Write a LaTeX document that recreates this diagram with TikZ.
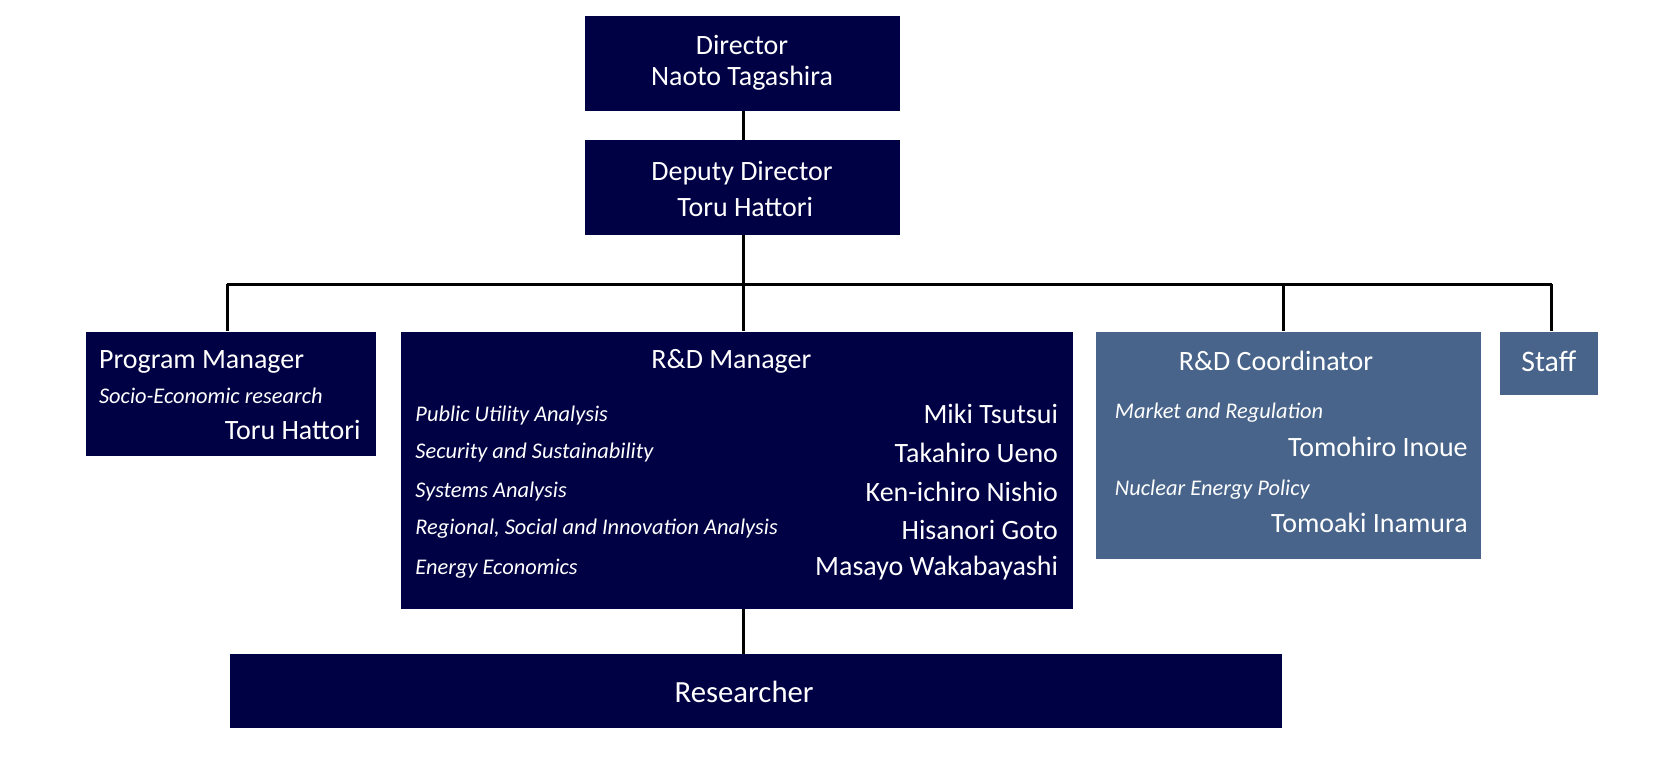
\documentclass[tikz,border=0pt]{standalone}
\usepackage{fontspec}
\setmainfont{Carlito}
\usetikzlibrary{positioning}
\definecolor{navy}{HTML}{000045}
\definecolor{steel}{HTML}{48648A}
\tikzset{
  box/.style = {draw = none, inner sep = 0pt, anchor = north west},
  big/.style = {text = white, font = \fontsize{15}{18}\selectfont, inner sep = 0pt},
  small/.style = {text = white, font = \fontsize{12}{14}\selectfont\itshape, inner sep = 0pt},
  link/.style = {line width = 1.6pt, black}
}
\begin{document}
\begin{tikzpicture}[x = 0.02cm, y = -0.02cm]
  \useasboundingbox (0, 0) rectangle (1560, 716);
  % boxes
  \node[box, fill = navy, minimum width = 296*0.02cm, minimum height = 89*0.02cm] at (551, 15) (dir) {};
  \node[box, fill = navy, minimum width = 296*0.02cm, minimum height = 89*0.02cm] at (551, 132) (dep) {};
  \node[box, fill = navy, minimum width = 273*0.02cm, minimum height = 117*0.02cm] at (81, 312) (pm) {};
  \node[box, fill = navy, minimum width = 633*0.02cm, minimum height = 261*0.02cm] at (377, 312) (rdm) {};
  \node[box, fill = steel, minimum width = 363*0.02cm, minimum height = 214*0.02cm] at (1032, 312) (rdc) {};
  \node[box, fill = steel, minimum width = 92*0.02cm, minimum height = 60*0.02cm] at (1413, 312) (staff) {};
  \node[box, fill = navy, minimum width = 991*0.02cm, minimum height = 69*0.02cm] at (216, 616) (res) {};
  % texts
  \node[big] at (699, 42) (dirt) {Director};
  \node[big] at (699, 74) (dirn) {Naoto Tagashira};
  \node[big] at (699, 163) (dept) {Deputy Director};
  \node[big] at (702, 195) (depn) {Toru Hattori};
  \node[big, anchor = west] at (93, 341) (pmt) {Program Manager};
  \node[small, anchor = west] at (93, 373) (pmf) {Socio-Economic research};
  \node[big, anchor = east] at (340, 405) (pmn) {Toru Hattori};
  \node[big] at (689, 340) (rdmt) {R\&D Manager};
  \node[small, anchor = west] at (391, 391) (f1) {Public Utility Analysis};
  \node[small, anchor = west] at (391, 426) (f2) {Security and Sustainability};
  \node[small, anchor = west] at (391, 463) (f3) {Systems Analysis};
  \node[small, anchor = west] at (391, 498) (f4) {Regional, Social and Innovation Analysis};
  \node[small, anchor = west] at (391, 536) (f5) {Energy Economics};
  \node[big, anchor = east] at (997, 390) (n1) {Miki Tsutsui};
  \node[big, anchor = east] at (997, 427) (n2) {Takahiro Ueno};
  \node[big, anchor = east] at (997, 463) (n3) {Ken-ichiro Nishio};
  \node[big, anchor = east] at (997, 499) (n4) {Hisanori Goto};
  \node[big, anchor = east] at (997, 535) (n5) {Masayo Wakabayashi};
  \node[big] at (1202, 340) (rdct) {R\&D Coordinator};
  \node[small, anchor = west] at (1050, 389) (g1) {Market and Regulation};
  \node[big, anchor = east] at (1383, 421) (m1) {Tomohiro Inoue};
  \node[small, anchor = west] at (1050, 461) (g2) {Nuclear Energy Policy};
  \node[big, anchor = east] at (1383, 493) (m2) {Tomoaki Inamura};
  \node[big, font = \fontsize{16}{19}\selectfont] at (1459, 340) (stafft) {Staff};
  \node[big, font = \fontsize{16.5}{19}\selectfont] at (701, 652) (rest) {Researcher};
  % links
  \coordinate (bl) at (214, 268);
  \coordinate (bm) at (700, 268);
  \coordinate (bc) at (1209, 268);
  \coordinate (br) at (1462, 268);
  \draw[link] (dir.south -| bm) -- (dep.north -| bm);
  \draw[link] (dep.south -| bm) -- (bm);
  \draw[link] (bl) -- (br);
  \draw[link] (bl) -- (pm.north -| bl);
  \draw[link] (bm) -- (rdm.north -| bm);
  \draw[link] (bc) -- (rdc.north -| bc);
  \draw[link] (br) -- (staff.north -| br);
  \draw[link] (rdm.south -| bm) -- (res.north -| bm);
\end{tikzpicture}
\end{document}
